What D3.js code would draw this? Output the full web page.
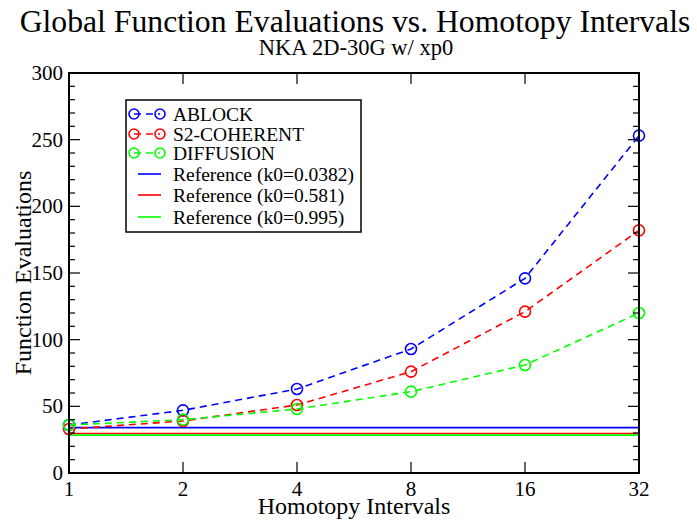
<!DOCTYPE html>
<html>
<head>
<meta charset="utf-8">
<script src="https://cdn.jsdelivr.net/npm/d3@7"></script>
<style>
  body { margin: 0; background: #fff; }
</style>
</head>
<body>
<svg id="chart" width="697" height="522"></svg>
<script>
// data
var intervals = [1, 2, 4, 8, 16, 32];
var ablock = [36, 47, 63, 93, 146, 253];
var s2coherent = [33, 39, 51, 76, 121, 182];
var diffusion = [36, 40, 48, 61, 81, 120];
var refValues = [34, 29.6, 28.4];
var seriesNames = ["ABLOCK", "S2-COHERENT", "DIFFUSION"];
var refNames = ["Reference (k0=0.0382)", "Reference (k0=0.581)", "Reference (k0=0.995)"];
var colors = ["#0000ff", "#ff0000", "#00ff00"];
var yTicks = [0, 50, 100, 150, 200, 250, 300];

var FONT = "'Liberation Serif'";

var svg = d3.select("#chart");

var plotL = 69, plotR = 639, plotT = 73, plotB = 473;

var x = d3.scaleLog().base(2).domain([1, 32]).range([plotL, plotR]);
var y = d3.scaleLinear().domain([0, 300]).range([plotB, plotT]);

function label(sel, size) {
    return sel.attr("font-family", FONT).attr("font-size", size).attr("fill", "#000");
}

// titles
label(svg.append("text"), 31.7)
    .attr("x", 355).attr("y", 32)
    .attr("text-anchor", "middle")
    .text("Global Function Evaluations vs. Homotopy Intervals");

label(svg.append("text"), 22.5)
    .attr("x", 356).attr("y", 55)
    .attr("text-anchor", "middle")
    .text("NKA 2D-30G w/ xp0");

// reference lines (horizontal)
refValues.forEach(function(v, i) {
    svg.append("line")
        .attr("x1", plotL).attr("x2", plotR)
        .attr("y1", y(v)).attr("y2", y(v))
        .attr("stroke", colors[i])
        .attr("stroke-width", 1.6);
});

// series
var allSeries = [ablock, s2coherent, diffusion];
var line = d3.line()
    .x(function(d) { return x(d[0]); })
    .y(function(d) { return y(d[1]); });

allSeries.forEach(function(vals, i) {
    var pts = intervals.map(function(t, j) { return [t, vals[j]]; });
    svg.append("path")
        .datum(pts)
        .attr("d", line)
        .attr("fill", "none")
        .attr("stroke", colors[i])
        .attr("stroke-width", 1.6)
        .attr("stroke-dasharray", "7,5");
    svg.selectAll(".pt" + i)
        .data(pts)
        .enter().append("circle")
        .attr("class", "pt" + i)
        .attr("cx", function(d) { return x(d[0]); })
        .attr("cy", function(d) { return y(d[1]); })
        .attr("r", 5.5)
        .attr("fill", "none")
        .attr("stroke", colors[i])
        .attr("stroke-width", 1.6);
});

// ticks pointing inward on all four sides
var minorY = d3.range(0, 301, 10).filter(function(v) { return v % 50 != 0; });

var axisG = svg.append("g").attr("stroke", "#000");
yTicks.forEach(function(v) {
    axisG.append("line").attr("x1", plotL).attr("x2", plotL + 11).attr("y1", y(v)).attr("y2", y(v)).attr("stroke-width", 1.2);
    axisG.append("line").attr("x1", plotR).attr("x2", plotR - 11).attr("y1", y(v)).attr("y2", y(v)).attr("stroke-width", 1.2);
});
minorY.forEach(function(v) {
    axisG.append("line").attr("x1", plotL).attr("x2", plotL + 6).attr("y1", y(v)).attr("y2", y(v)).attr("stroke-width", 1.2);
    axisG.append("line").attr("x1", plotR).attr("x2", plotR - 6).attr("y1", y(v)).attr("y2", y(v)).attr("stroke-width", 1.2);
});
intervals.forEach(function(t) {
    axisG.append("line").attr("x1", x(t)).attr("x2", x(t)).attr("y1", plotB).attr("y2", plotB - 11).attr("stroke-width", 1.2);
    axisG.append("line").attr("x1", x(t)).attr("x2", x(t)).attr("y1", plotT).attr("y2", plotT + 11).attr("stroke-width", 1.2);
});

// frame
svg.append("rect")
    .attr("x", plotL).attr("y", plotT)
    .attr("width", plotR - plotL).attr("height", plotB - plotT)
    .attr("fill", "none")
    .attr("stroke", "#000")
    .attr("stroke-width", 2);

// tick labels
label(svg.selectAll(".ylab")
    .data(yTicks)
    .enter().append("text"), 21)
    .attr("class", "ylab")
    .attr("x", plotL - 6)
    .attr("y", function(d) { return y(d) + 7; })
    .attr("text-anchor", "end")
    .text(function(d) { return d; });

label(svg.selectAll(".xlab")
    .data(intervals)
    .enter().append("text"), 21)
    .attr("class", "xlab")
    .attr("x", function(d) { return x(d); })
    .attr("y", 496)
    .attr("text-anchor", "middle")
    .text(function(d) { return d; });

// axis labels
label(svg.append("text"), 24)
    .attr("x", 354).attr("y", 514)
    .attr("text-anchor", "middle")
    .text("Homotopy Intervals");

label(svg.append("text"), 24)
    .attr("transform", "translate(31," + ((plotT + plotB) / 2) + ") rotate(-90)")
    .attr("text-anchor", "middle")
    .text("Function Evaluations");

// legend
var lg = svg.append("g");
lg.append("rect")
    .attr("x", 126).attr("y", 100)
    .attr("width", 235).attr("height", 132)
    .attr("fill", "#fff")
    .attr("stroke", "#000")
    .attr("stroke-width", 1.5);

var rowY = [114, 134, 153, 174, 195, 217];
seriesNames.forEach(function(name, i) {
    var yy = rowY[i];
    lg.append("line")
        .attr("x1", 134).attr("x2", 160)
        .attr("y1", yy).attr("y2", yy)
        .attr("stroke", colors[i])
        .attr("stroke-width", 1.6)
        .attr("stroke-dasharray", "7,5");
    [134, 160].forEach(function(cx) {
        lg.append("circle")
            .attr("cx", cx).attr("cy", yy).attr("r", 5)
            .attr("fill", "none")
            .attr("stroke", colors[i])
            .attr("stroke-width", 1.6);
    });
    label(lg.append("text"), 19.5)
        .attr("x", 173).attr("y", yy + 6.5)
        .text(name);
});
refNames.forEach(function(name, i) {
    var yy = rowY[i + 3];
    lg.append("line")
        .attr("x1", 138).attr("x2", 161)
        .attr("y1", yy).attr("y2", yy)
        .attr("stroke", colors[i])
        .attr("stroke-width", 1.6);
    label(lg.append("text"), 19.5)
        .attr("x", 173).attr("y", yy + 6.5)
        .text(name);
});
</script>
</body>
</html>
